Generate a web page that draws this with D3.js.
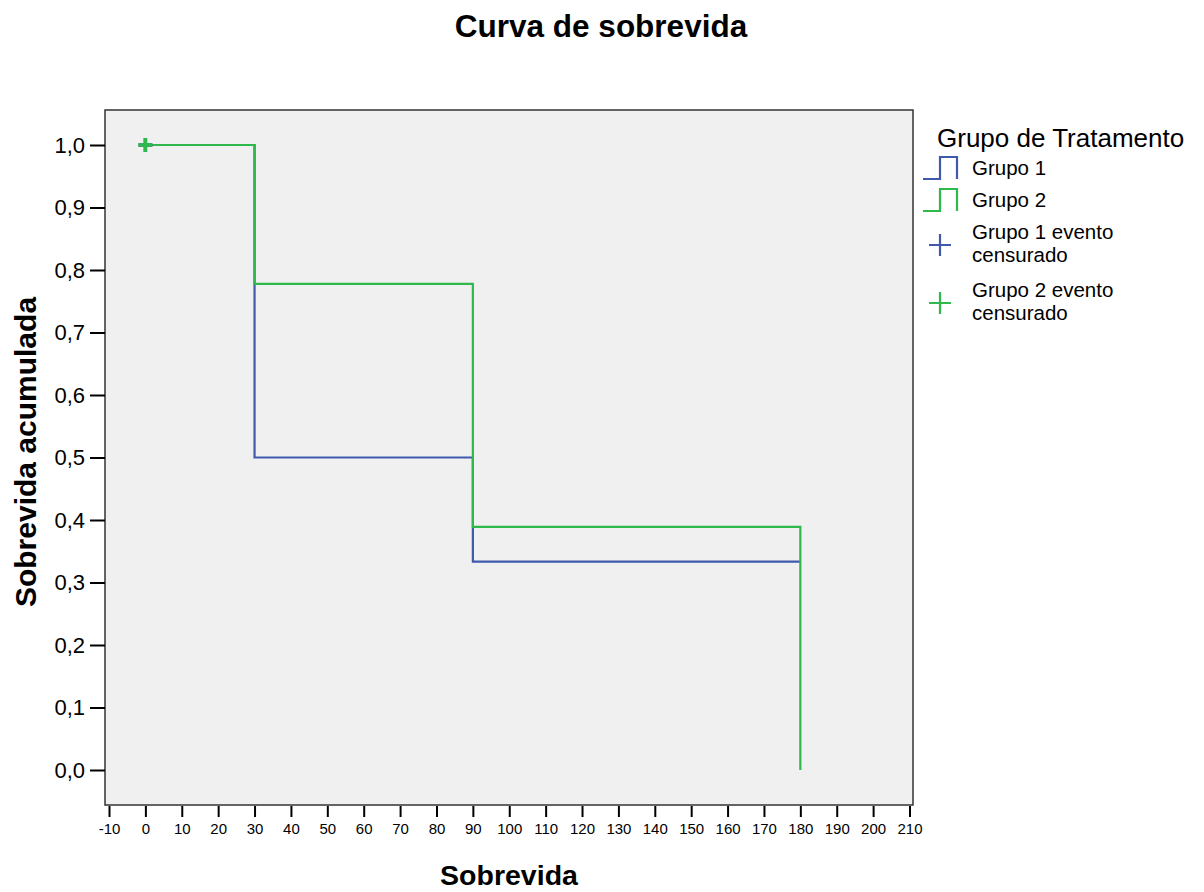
<!DOCTYPE html>
<html>
<head>
<meta charset="utf-8">
<script src="https://cdn.jsdelivr.net/npm/d3@7"></script>
<style>
  html, body { margin: 0; padding: 0; background: #ffffff; }
  svg { display: block; font-family: Arial, "Liberation Sans", Helvetica, sans-serif; }
</style>
</head>
<body>
<svg id="chart" width="1204" height="892"></svg>
<script>
// ---- Data ----
const chartTitle = "Curva de sobrevida";
const xTitle = "Sobrevida";
const yTitle = "Sobrevida acumulada";
const legendTitle = "Grupo de Tratamento";

const groupNames = ["Grupo 1", "Grupo 2"];
const groupColors = ["#3f5aad", "#2fb84c"];

// Step points (time, cumulative survival)
const group1Times = [0, 30, 90, 180];
const group1Surv  = [1.0, 0.5, 0.3333, 0.3333];
const group2Times = [0, 30, 90, 180];
const group2Surv  = [1.0, 0.7778, 0.3889, 0.0];

// Censored events
const group1CensorTimes = [0];
const group1CensorSurv  = [1.0];
const group2CensorTimes = [0];
const group2CensorSurv  = [1.0];

const legendLabels = [["Grupo 1"], ["Grupo 2"], ["Grupo 1 evento", "censurado"], ["Grupo 2 evento", "censurado"]];

const xTicks = [-10, 0, 10, 20, 30, 40, 50, 60, 70, 80, 90, 100, 110, 120, 130, 140, 150, 160, 170, 180, 190, 200, 210];
const yTicks = [0.0, 0.1, 0.2, 0.3, 0.4, 0.5, 0.6, 0.7, 0.8, 0.9, 1.0];

// ---- Layout ----
const svg = d3.select("#chart");
const frame = { left: 105, top: 110, right: 913, bottom: 805 };

const x = d3.scaleLinear().domain([-10, 210]).range([109, 909.5]);
const y = d3.scaleLinear().domain([0, 1]).range([770, 145]);

// Plot background & frame
svg.append("rect")
  .attr("x", frame.left).attr("y", frame.top)
  .attr("width", frame.right - frame.left).attr("height", frame.bottom - frame.top)
  .attr("fill", "#f0f0f0").attr("stroke", "#333").attr("stroke-width", 1.5);

// Title
svg.append("text")
  .attr("x", 601).attr("y", 37)
  .attr("text-anchor", "middle")
  .attr("font-size", 31.5).attr("font-weight", "bold")
  .attr("fill", "#000")
  .text(chartTitle);

// X axis
const fmtComma = d => d3.format(".1f")(d).replace(".", ",");
const fmtInt = d => String(d);
const xAxis = d3.axisBottom(x).tickValues(xTicks).tickSize(11).tickPadding(6).tickFormat(fmtInt);
const gx = svg.append("g").attr("transform", `translate(0,${frame.bottom + 1})`).call(xAxis);
gx.select(".domain").remove();
gx.selectAll(".tick line").attr("stroke", "#000").attr("stroke-width", 2);
gx.selectAll(".tick text").attr("font-size", 15).attr("fill", "#000")
  .attr("font-family", "Arial, 'Liberation Sans', sans-serif");

// Y axis
const yAxis = d3.axisLeft(y).tickValues(yTicks).tickSize(15).tickPadding(5).tickFormat(fmtComma);
const gy = svg.append("g").attr("transform", `translate(${frame.left},0)`).call(yAxis);
gy.select(".domain").remove();
gy.selectAll(".tick line").attr("stroke", "#000").attr("stroke-width", 2);
gy.selectAll(".tick text").attr("font-size", 22).attr("fill", "#000")
  .attr("font-family", "Arial, 'Liberation Sans', sans-serif");

// Axis titles
svg.append("text")
  .attr("x", 509).attr("y", 885)
  .attr("text-anchor", "middle")
  .attr("font-size", 28.5).attr("font-weight", "bold").attr("fill", "#000")
  .text(xTitle);

svg.append("text")
  .attr("transform", `translate(36,452) rotate(-90)`)
  .attr("text-anchor", "middle")
  .attr("font-size", 30).attr("font-weight", "bold").attr("fill", "#000")
  .text(yTitle);

// Survival step lines
const line = d3.line().x(d => x(d[0])).y(d => y(d[1])).curve(d3.curveStepAfter);
const series = [
  d3.zip(group1Times, group1Surv),
  d3.zip(group2Times, group2Surv)
];
const censors = [
  d3.zip(group1CensorTimes, group1CensorSurv),
  d3.zip(group2CensorTimes, group2CensorSurv)
];

series.forEach((pts, i) => {
  svg.append("path")
    .datum(pts)
    .attr("d", line)
    .attr("fill", "none")
    .attr("stroke", groupColors[i])
    .attr("stroke-width", 2.2);
});

censors.forEach((pts, i) => {
  svg.selectAll(null).data(pts).enter().append("path")
    .attr("d", d => {
      const cx = x(d[0]), cy = y(d[1]), h = 7;
      return `M${cx - h},${cy}H${cx + h}M${cx},${cy - h}V${cy + h}`;
    })
    .attr("stroke", groupColors[i])
    .attr("stroke-width", 3.5)
    .attr("fill", "none");
});

// Legend
const lg = svg.append("g");
lg.append("text").attr("x", 937).attr("y", 147)
  .attr("font-size", 26).attr("fill", "#000").text(legendTitle);

const itemY = [168, 200, 245, 303]; // icon centres
legendLabels.forEach((lines, i) => {
  const cy = itemY[i];
  const color = groupColors[i % 2];
  if (i < 2) {
    lg.append("path")
      .attr("d", `M923,${cy + 11}H940V${cy - 11}H957V${cy + 11}`)
      .attr("fill", "none").attr("stroke", color).attr("stroke-width", 2.2);
  } else {
    lg.append("path")
      .attr("d", `M929,${cy}H951M940,${cy - 11}V${cy + 11}`)
      .attr("fill", "none").attr("stroke", color).attr("stroke-width", 2.2);
  }
  const t = lg.append("text").attr("x", 972).attr("font-size", 20.5).attr("fill", "#000");
  if (lines.length === 1) {
    t.append("tspan").attr("x", 972).attr("y", cy + 7).text(lines[0]);
  } else {
    t.append("tspan").attr("x", 972).attr("y", cy - 6).text(lines[0]);
    t.append("tspan").attr("x", 972).attr("y", cy + 17).text(lines[1]);
  }
});
</script>
</body>
</html>
